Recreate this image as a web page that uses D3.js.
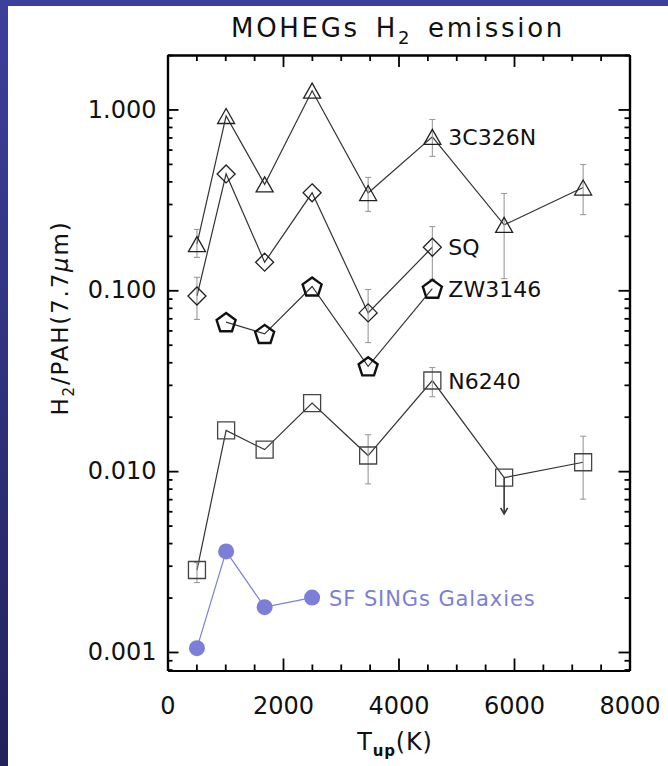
<!DOCTYPE html>
<html>
<head>
<meta charset="utf-8">
<script src="https://cdn.jsdelivr.net/npm/d3@7"></script>
<style>
  html, body { margin: 0; padding: 0; background: #fff; }
  svg { display: block; font-family: "DejaVu Sans", sans-serif; }
</style>
</head>
<body>
<div id="chart"></div>
<script>
// upper level temperatures of the H2 rotational lines S(0)..S(7)
const tempK = [510, 1015, 1682, 2504, 3474, 4586, 5829, 7197];

// H2 / PAH(7.7um) ratios
const c3c326n = [0.18, 0.92, 0.385, 1.27, 0.345, 0.705, 0.23, 0.37];
const c3c326nLo = [0.152, null, null, null, 0.273, 0.55, 0.116, 0.262];
const c3c326nHi = [0.217, null, null, null, 0.421, 0.88, 0.343, 0.496];

const sq = [0.093, 0.44, 0.143, 0.346, 0.075, 0.173];
const sqLo = [0.069, null, null, null, 0.0514, 0.115];
const sqHi = [0.118, null, null, null, 0.101, 0.225];

const zw3146 = [0.0667, 0.0574, 0.105, 0.038, 0.102];

const n6240 = [0.00284, 0.0168, 0.01315, 0.0238, 0.0122, 0.0317, 0.0092, 0.0112];
const n6240Lo = [0.00242, null, null, null, 0.0085, 0.0258, null, 0.0070];
const n6240Hi = [0.00312, null, null, null, 0.0159, 0.0374, null, 0.0156];
const n6240Limit = [false, false, false, false, false, false, true, false];
const n6240LimitTo = 0.0058;

const sings = [0.00105, 0.0036, 0.00177, 0.0020];

const xTicks = [0, 2000, 4000, 6000, 8000];
const yTicks = [0.001, 0.01, 0.1, 1];

const W = 668, H = 766;
const margin = { left: 167.5, right: 668 - 629.5, top: 55, bottom: 766 - 670.5 };

const svg = d3.select('#chart').append('svg')
  .attr('width', W)
  .attr('height', H);

// blue slide frame
const defs = svg.append('defs');
const grad = defs.append('linearGradient')
  .attr('id', 'frame').attr('x1', 0).attr('y1', 0).attr('x2', 0).attr('y2', 1);
grad.append('stop').attr('offset', '0%').attr('stop-color', '#3c409c');
grad.append('stop').attr('offset', '100%').attr('stop-color', '#22235a');
svg.append('rect').attr('width', W).attr('height', H).attr('fill', 'url(#frame)');
svg.append('rect').attr('x', 8).attr('y', 6).attr('width', W - 8).attr('height', H - 6).attr('fill', '#fff');

const x = d3.scaleLinear().domain([0, 8000]).range([margin.left, W - margin.right]);
const y = d3.scaleLog().domain([0.00079, 2.0]).range([H - margin.bottom, margin.top]);

const g = svg.append('g');

// title
const title = g.append('text')
  .attr('x', 398).attr('y', 37)
  .attr('text-anchor', 'middle')
  .attr('font-size', 26)
  .attr('letter-spacing', 2.7)
  .attr('word-spacing', 5)
  .attr('fill', '#111');
title.append('tspan').text('MOHEGs H');
title.append('tspan').attr('font-size', 18).attr('dy', 7).text('2');
title.append('tspan').attr('dy', -7).text(' emission');

// axes: major and minor ticks pointing inward
const minorX = d3.range(0, 8001, 500).filter(v => v % 2000 !== 0);
const minorY = y.ticks().filter(v => !yTicks.some(t => Math.abs(t - v) < t * 1e-6));
const fmtY = d3.format('.3f');

function styleAxis(sel) {
  sel.select('.domain').attr('stroke', '#000').attr('stroke-width', 2.2);
  sel.selectAll('.tick line').attr('stroke', '#000').attr('stroke-width', 1.8);
  sel.selectAll('.tick text').attr('fill', '#111').attr('font-size', 24)
    .attr('font-family', '"DejaVu Sans", sans-serif');
}

const yBottom = H - margin.bottom, yTop = margin.top;
const xLeft = margin.left, xRight = W - margin.right;

g.append('g').attr('transform', `translate(0,${yBottom})`)
  .call(d3.axisBottom(x).tickValues(xTicks).tickSize(-12).tickPadding(26).tickFormat(d3.format('d')).tickSizeOuter(0))
  .call(styleAxis);
g.append('g').attr('transform', `translate(0,${yBottom})`)
  .call(d3.axisBottom(x).tickValues(minorX).tickSize(-6).tickFormat('').tickSizeOuter(0))
  .call(styleAxis);
g.append('g').attr('transform', `translate(0,${yTop})`)
  .call(d3.axisTop(x).tickValues(xTicks).tickSize(-12).tickFormat('').tickSizeOuter(0))
  .call(styleAxis);
g.append('g').attr('transform', `translate(0,${yTop})`)
  .call(d3.axisTop(x).tickValues(minorX).tickSize(-6).tickFormat('').tickSizeOuter(0))
  .call(styleAxis);

g.append('g').attr('transform', `translate(${xLeft},0)`)
  .call(d3.axisLeft(y).tickValues(yTicks).tickSize(-11).tickPadding(11).tickFormat(fmtY).tickSizeOuter(0))
  .call(styleAxis);
g.append('g').attr('transform', `translate(${xLeft},0)`)
  .call(d3.axisLeft(y).tickValues(minorY).tickSize(-5).tickFormat('').tickSizeOuter(0))
  .call(styleAxis);
g.append('g').attr('transform', `translate(${xRight},0)`)
  .call(d3.axisRight(y).tickValues(yTicks).tickSize(-11).tickFormat('').tickSizeOuter(0))
  .call(styleAxis);
g.append('g').attr('transform', `translate(${xRight},0)`)
  .call(d3.axisRight(y).tickValues(minorY).tickSize(-5).tickFormat('').tickSizeOuter(0))
  .call(styleAxis);

// axis titles
const xl = g.append('text')
  .attr('x', 395).attr('y', 750)
  .attr('text-anchor', 'middle').attr('font-size', 24).attr('fill', '#111')
  .attr('letter-spacing', 0.8);
xl.append('tspan').text('T');
xl.append('tspan').attr('font-size', 15).attr('font-weight', 'bold').attr('dy', 6).text('up');
xl.append('tspan').attr('dy', -6).text('(K)');

const yl = g.append('text')
  .attr('transform', 'translate(68,318) rotate(-90)')
  .attr('text-anchor', 'middle').attr('font-size', 23).attr('fill', '#111')
  .attr('letter-spacing', 1.8);
yl.append('tspan').text('H');
yl.append('tspan').attr('font-size', 15).attr('dy', 6).text('2');
yl.append('tspan').attr('dy', -6).text('/PAH(7.7');
yl.append('tspan').attr('font-style', 'italic').text('\u03bc');
yl.append('tspan').text('m)');

// marker shapes
const shapes = {
  triangle: 'M0,-7.5L8.5,7.5L-8.5,7.5Z',
  diamond: 'M0,-9L9,0L0,9L-9,0Z',
  square: 'M-8.5,-8.5H8.5V8.5H-8.5Z',
  pentagon: d3.range(5).map(i => {
    const a = -Math.PI / 2 + i * 2 * Math.PI / 5;
    return [10 * Math.cos(a), 10 * Math.sin(a) + 1];
  }).map((p, i) => (i ? 'L' : 'M') + p[0].toFixed(2) + ',' + p[1].toFixed(2)).join('') + 'Z'
};

const series = [
  { name: '3C326N', t: tempK, v: c3c326n, lo: c3c326nLo, hi: c3c326nHi, shape: 'triangle', stroke: '#222', sw: 1.3, labelAt: 4586 },
  { name: 'SQ', t: tempK.slice(0, 6), v: sq, lo: sqLo, hi: sqHi, shape: 'diamond', stroke: '#222', sw: 1.3, labelAt: 4586 },
  { name: 'ZW3146', t: tempK.slice(1, 6), v: zw3146, shape: 'pentagon', stroke: '#111', sw: 2.4, labelAt: 4586 },
  { name: 'N6240', t: tempK, v: n6240, lo: n6240Lo, hi: n6240Hi, shape: 'square', stroke: '#444', sw: 1.3, labelAt: 4586 }
];

const line = d3.line().x(d => x(d[0])).y(d => y(d[1]));

series.forEach((s) => {
  const pts = s.t.map((t, i) => [t, s.v[i]]);
  g.append('path').datum(pts)
    .attr('d', line).attr('fill', 'none').attr('stroke', '#333').attr('stroke-width', 1.2);

  if (s.lo) {
    s.t.forEach((t, i) => {
      if (s.lo[i] == null) return;
      const eb = g.append('g').attr('stroke', '#9a9a9a').attr('stroke-width', 1.1);
      eb.append('line').attr('x1', x(t)).attr('x2', x(t)).attr('y1', y(s.lo[i])).attr('y2', y(s.hi[i]));
      eb.append('line').attr('x1', x(t) - 3).attr('x2', x(t) + 3).attr('y1', y(s.lo[i])).attr('y2', y(s.lo[i]));
      eb.append('line').attr('x1', x(t) - 3).attr('x2', x(t) + 3).attr('y1', y(s.hi[i])).attr('y2', y(s.hi[i]));
    });
  }

  g.selectAll(null).data(pts).enter().append('path')
    .attr('transform', d => `translate(${x(d[0])},${y(d[1])})`)
    .attr('d', shapes[s.shape])
    .attr('fill', 'none')
    .attr('stroke', s.stroke)
    .attr('stroke-width', s.sw)
    .attr('stroke-linejoin', 'miter');

  const li = s.t.indexOf(s.labelAt);
  g.append('text')
    .attr('x', x(s.labelAt) + 16).attr('y', y(s.v[li]) + 8)
    .attr('font-size', 22).attr('fill', '#111')
    .text(s.name);
});

// N6240 upper limit arrow
tempK.forEach((t, i) => {
  if (!n6240Limit[i]) return;
  const x0 = x(t), y0 = y(n6240[i]), y1 = y(n6240LimitTo);
  g.append('line').attr('x1', x0).attr('x2', x0).attr('y1', y0).attr('y2', y1)
    .attr('stroke', '#333').attr('stroke-width', 1.6);
  g.append('path').attr('d', `M${x0 - 3.5},${y1 - 6}L${x0},${y1}L${x0 + 3.5},${y1 - 6}`)
    .attr('fill', 'none').attr('stroke', '#333').attr('stroke-width', 1.6);
});

// SINGs star forming galaxies
const singsColor = '#7b7fd8';
const singsPts = tempK.slice(0, 4).map((t, i) => [t, sings[i]]);
g.append('path').datum(singsPts)
  .attr('d', line).attr('fill', 'none').attr('stroke', singsColor).attr('stroke-width', 1.2);
g.selectAll(null).data(singsPts).enter().append('circle')
  .attr('cx', d => x(d[0])).attr('cy', d => y(d[1])).attr('r', 8)
  .attr('fill', singsColor);
g.append('text')
  .attr('x', x(2504) + 17).attr('y', y(sings[3]) + 8)
  .attr('font-size', 21).attr('fill', singsColor)
  .attr('letter-spacing', 0.9)
  .text('SF SINGs Galaxies');
</script>
</body>
</html>
